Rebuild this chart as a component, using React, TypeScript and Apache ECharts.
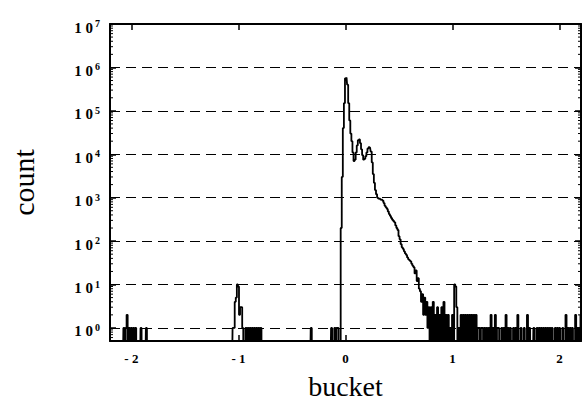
import React, { useEffect, useRef } from 'react';
import * as echarts from 'echarts';

// ---------- data (0.01-wide buckets, only non-empty buckets listed) ----------
const leftBuckets = [
  -2.07, -2.05, -2.04, -2.02, -2.0, -1.98, -1.96, -1.91, -1.86,
  -1.05, -1.04, -1.03, -1.02, -1.01, -1.0, -0.99, -0.98, -0.97, -0.96,
  -0.93, -0.91, -0.89, -0.87, -0.85, -0.83, -0.81, -0.79,
  -0.32, -0.13, -0.1, -0.08, -0.07,
];
const leftCounts = [
  1, 1, 2, 1, 1, 1, 1, 1, 1,
  1, 1, 4, 5, 10, 9, 2, 3, 3, 1,
  1, 1, 1, 1, 1, 1, 1, 1,
  1, 1, 1, 1, 1,
];

const peakBuckets = [
  -0.04, -0.03, -0.02, -0.01, 0.0, 0.01, 0.02, 0.03, 0.04, 0.05,
  0.06, 0.07, 0.08, 0.09, 0.1, 0.11, 0.12, 0.13, 0.14, 0.15,
  0.16, 0.17, 0.18, 0.19, 0.2, 0.21, 0.22, 0.23, 0.24, 0.25,
  0.26, 0.27, 0.28, 0.29, 0.3, 0.31, 0.32, 0.33, 0.34, 0.35,
  0.36, 0.37, 0.38, 0.39, 0.4, 0.41, 0.42, 0.43, 0.44, 0.45,
  0.46, 0.47, 0.48, 0.49, 0.5, 0.51, 0.52, 0.53, 0.54, 0.55,
  0.56, 0.57, 0.58, 0.59, 0.6, 0.61, 0.62, 0.63, 0.64, 0.65,
  0.66, 0.67, 0.68, 0.69, 0.7, 0.71, 0.72, 0.73, 0.74, 0.75,
  0.76, 0.77, 0.78,
];
const peakCounts = [
  200, 3000, 40000, 150000, 560000, 580000, 400000, 150000, 60000, 30000,
  20000, 11000, 7000, 7500, 11000, 16000, 21000, 22000, 18000, 13000,
  9500, 7500, 7800, 9000, 11000, 13500, 14500, 14000, 11500, 6500,
  3500, 2200, 1500, 1200, 1000, 950, 950, 900, 900, 850,
  750, 650, 600, 550, 480, 420, 380, 340, 310, 290,
  270, 230, 200, 180, 130, 110, 85, 72, 66, 58,
  52, 48, 42, 38, 36, 34, 30, 27, 25, 18,
  21, 12, 14, 8, 7, 4, 6, 2, 5, 2,
  4, 1, 3,
];

const tailBuckets = [
  0.8, 0.82, 0.84, 0.86, 0.88, 0.9, 0.92, 0.94, 0.96, 0.98,
  1.0, 1.02, 1.03, 1.04, 1.06, 1.08, 1.1, 1.12, 1.14, 1.16,
  1.18, 1.2, 1.22, 1.24, 1.25, 1.27, 1.28, 1.3, 1.32, 1.34,
  1.36, 1.38, 1.4, 1.42, 1.43, 1.46, 1.48, 1.5, 1.52, 1.54,
  1.57, 1.59, 1.61, 1.64, 1.67, 1.7, 1.72, 1.76, 1.79, 1.81,
  1.83, 1.85, 1.87, 1.89, 1.91, 1.93, 1.96, 1.98, 2.0, 2.03,
  2.06, 2.08, 2.1, 2.12, 2.15, 2.17, 2.19, 2.2,
];
const tailCounts = [
  3, 4, 2, 3, 2, 3, 4, 2, 2, 1,
  2, 10, 9, 3, 1, 2, 2, 2, 2, 2,
  2, 2, 2, 1, 1, 1, 1, 1, 1, 1,
  2, 1, 2, 1, 1, 1, 1, 2, 1, 1,
  1, 1, 2, 1, 1, 2, 1, 1, 1, 1,
  1, 1, 1, 1, 1, 1, 1, 1, 1, 1,
  2, 1, 1, 1, 2, 1, 1, 2,
];

const xTickValues = [-2, -1, 0, 1, 2];
const yTickExponents = [0, 1, 2, 3, 4, 5, 6, 7];
const minorMultipliers = [2, 3, 4, 5, 6, 7, 8, 9];
const minorDecades = [0.1, 1, 10, 100, 1000, 10000, 100000, 1000000];

// ---------- settings ----------
const X_MIN = -2.2;
const X_MAX = 2.2;
const Y_MIN = 0.5;
const Y_MAX = 1e7;
const EMPTY = 0.1; // empty bucket: drawn below the axis, clipped
const SERIF = '"Liberation Serif", "Times New Roman", serif';

function buildSteps(): number[][] {
  const buckets = [...leftBuckets, ...peakBuckets, ...tailBuckets];
  const counts = [...leftCounts, ...peakCounts, ...tailCounts];
  const pts: number[][] = [[X_MIN, EMPTY]];
  let prev = X_MIN;
  for (let i = 0; i < buckets.length; i++) {
    const b = buckets[i];
    if (b - prev > 0.015) {
      pts.push([+(prev + 0.01).toFixed(2), EMPTY]);
      if (b - prev > 0.025) pts.push([+(b - 0.01).toFixed(2), EMPTY]);
    }
    pts.push([b, counts[i] > 0 ? counts[i] : EMPTY]);
    prev = b;
  }
  if (X_MAX - prev > 0.005) {
    pts.push([+(prev + 0.01).toFixed(2), EMPTY]);
    pts.push([X_MAX, EMPTY]);
  }
  return pts;
}

function minorTickData(): number[][] {
  const out: number[][] = [];
  for (const d of minorDecades) {
    for (const m of minorMultipliers) {
      const v = m * d;
      if (v > Y_MIN && v < Y_MAX) out.push([X_MIN, v]);
    }
  }
  return out;
}

export default function App() {
  const ref = useRef<HTMLDivElement>(null);

  useEffect(() => {
    if (!ref.current) return;
    const chart = echarts.init(ref.current, undefined, { renderer: 'svg' });

    const isPow10 = (v: number) => {
      const e = Math.round(Math.log10(v));
      return yTickExponents.includes(e) && Math.abs(v - Math.pow(10, e)) < 1e-6 * v ? e : null;
    };

    const axisLine = { show: true, onZero: false, lineStyle: { color: '#000', width: 2 } };
    const axisTick = { show: true, inside: true, length: 6, lineStyle: { color: '#000', width: 1.5 } };

    const option: any = {
      animation: false,
      backgroundColor: '#ffffff',
      grid: { left: 107, right: 3, top: 24, bottom: 61, containLabel: false },
      xAxis: [
        {
          type: 'value',
          min: X_MIN,
          max: X_MAX,
          position: 'bottom',
          name: 'bucket',
          nameLocation: 'middle',
          nameGap: 31,
          nameTextStyle: { fontFamily: SERIF, fontSize: 28, color: '#000' },
          axisLine,
          axisTick,
          axisLabel: {
            margin: 11,
            fontFamily: SERIF,
            fontWeight: 'bold',
            fontSize: 13,
            color: '#000',
            formatter: (v: number) => {
              const r = Math.round(v);
              if (Math.abs(v - r) > 1e-9 || !xTickValues.includes(r)) return '';
              return r < 0 ? '- ' + Math.abs(r) : String(r);
            },
          },
          splitLine: { show: false },
        },
        {
          type: 'value',
          min: X_MIN,
          max: X_MAX,
          position: 'top',
          axisLine,
          axisTick,
          axisLabel: { show: false },
          splitLine: { show: false },
        },
      ],
      yAxis: [
        {
          type: 'log',
          logBase: 10,
          min: Y_MIN,
          max: Y_MAX,
          position: 'left',
          name: 'count',
          nameLocation: 'middle',
          nameGap: 72,
          nameRotate: 90,
          nameTextStyle: { fontFamily: SERIF, fontSize: 30, color: '#000' },
          axisLine,
          axisTick,
          axisLabel: {
            margin: 10,
            color: '#000',
            padding: [7, 0, 0, 0],
            formatter: (v: number) => {
              const e = isPow10(v);
              return e === null ? '' : `{b|1 0}{s|${e}}`;
            },
            rich: {
              b: { fontFamily: SERIF, fontWeight: 'bold', fontSize: 15, lineHeight: 18, color: '#000' },
              s: {
                fontFamily: SERIF,
                fontWeight: 'bold',
                fontSize: 10,
                lineHeight: 8,
                verticalAlign: 'top',
                padding: [0, 0, 0, 2],
                color: '#000',
              },
            },
          },
          splitLine: {
            show: true,
            lineStyle: { color: '#000', width: 1, type: [10, 6] },
          },
        },
        {
          type: 'log',
          logBase: 10,
          min: Y_MIN,
          max: Y_MAX,
          position: 'right',
          axisLine,
          axisTick,
          axisLabel: { show: false },
          splitLine: { show: false },
        },
      ],
      series: [
        {
          type: 'line',
          name: 'count',
          xAxisIndex: 0,
          yAxisIndex: 0,
          step: 'middle',
          showSymbol: false,
          symbol: 'none',
          clip: true,
          data: buildSteps(),
          lineStyle: { color: '#000', width: 1.8 },
          itemStyle: { color: '#000' },
          silent: true,
        },
        {
          type: 'custom',
          xAxisIndex: 0,
          yAxisIndex: 0,
          silent: true,
          data: minorTickData(),
          encode: { x: 0, y: 1 },
          renderItem: (_params: any, api: any) => {
            const v = api.value(1);
            const l = api.coord([X_MIN, v]);
            const r = api.coord([X_MAX, v]);
            const st = { stroke: '#000', lineWidth: 1 };
            return {
              type: 'group',
              children: [
                { type: 'line', shape: { x1: l[0], y1: l[1], x2: l[0] + 3, y2: l[1] }, style: st },
                { type: 'line', shape: { x1: r[0], y1: r[1], x2: r[0] - 3, y2: r[1] }, style: st },
              ],
            };
          },
        },
      ],
    };

    chart.setOption(option);
    return () => chart.dispose();
  }, []);

  return <div ref={ref} style={{ width: 584, height: 405, position: 'absolute', left: 0, top: 0 }} />;
}
